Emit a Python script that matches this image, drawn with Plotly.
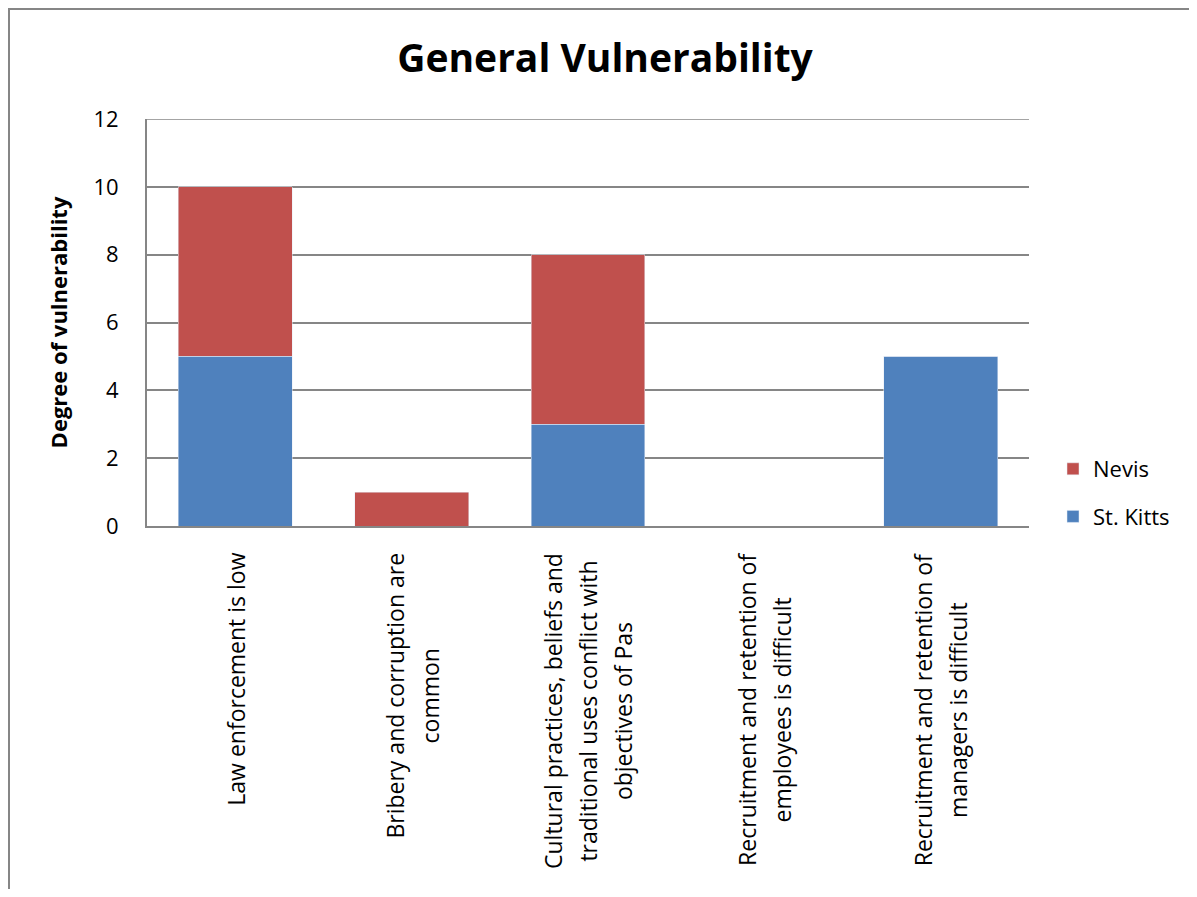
import plotly.graph_objects as go

# data
categories = [["Law enforcement is low"],
              ["Bribery and corruption are", "common"],
              ["Cultural practices, beliefs and", "traditional uses conflict with", "objectives of Pas"],
              ["Recruitment and retention of", "employees is difficult"],
              ["Recruitment and retention of", "managers is difficult"]]
cat_keys = ["c1", "c2", "c3", "c4", "c5"]
st_kitts = [5, 0, 3, 0, 5]
nevis = [5, 1, 5, 0, 0]
y_ticks = [0, 2, 4, 6, 8, 10, 12]

# page has an 8px body margin, so the figure is drawn 8px in
W, H = 1181, 881
L, R, T, B = 139, 160, 111, 363
pw, ph = W - L - R, H - T - B
FONT = "Open Sans"
GRID = "#868686"

def px(x):
    return (x - L) / pw

def py(y):
    return (H - B - y) / ph

fig = go.Figure()
fig.add_trace(go.Bar(x=cat_keys, y=st_kitts, name="St. Kitts", marker_color="#4F81BD",
                     legendgroup="a", legendrank=2))
fig.add_trace(go.Bar(x=cat_keys, y=nevis, name="Nevis", marker_color="#C0504D",
                     legendgroup="b", legendrank=1))

# rotated category labels; bigger annotation font gives the wider line spacing,
# the span sets the visible glyph size
for k, lines in zip(cat_keys, categories):
    txt = "<br>".join('<span style="font-size:23px">%s</span>' % s for s in lines)
    fig.add_annotation(x=k, xref="x", y=py(543), yref="paper", text=txt,
                       textangle=-90, showarrow=False, xanchor="center", yanchor="top",
                       align="center", font=dict(family=FONT, size=27, color="black"))

# gridline at the top of the axis
fig.add_shape(type="line", xref="paper", x0=0, x1=1, yref="y", y0=y_ticks[-1], y1=y_ticks[-1],
              line=dict(color=GRID, width=1.5), layer="below")

# outer chart border (runs off the page on right and bottom)
fig.add_shape(type="rect", xref="paper", yref="paper",
              x0=px(1), x1=px(1300), y0=py(1000), y1=py(1),
              line=dict(color=GRID, width=2), layer="below")

fig.update_layout(
    width=W, height=H,
    margin=dict(l=L, r=R, t=T, b=B),
    barmode="stack", bargap=0.354,
    plot_bgcolor="white", paper_bgcolor="white",
    title=dict(text="<b>General Vulnerability</b>", xref="paper", x=px(597), xanchor="center",
               y=1 - 50 / H, yanchor="middle",
               font=dict(family=FONT, size=39, color="black")),
    font=dict(family=FONT, color="black"),
    legend=dict(x=px(1045), xanchor="left", y=py(440), yanchor="top",
                traceorder="grouped", tracegroupgap=16,
                font=dict(size=22, family=FONT)),
    xaxis=dict(showticklabels=False, showline=True, linecolor=GRID, linewidth=2,
               ticks="", range=[-0.5, 4.5]),
    yaxis=dict(range=[0, 12], tickvals=y_ticks, showgrid=True, gridcolor=GRID,
               gridwidth=1.5, showline=True, linecolor=GRID, linewidth=2,
               ticks="", tickfont=dict(size=22, family=FONT), zeroline=False,
               ticklabelstandoff=22,
               title=dict(text="<b>Degree of vulnerability</b>", standoff=20,
                          font=dict(size=22, family=FONT))),
)
fig.write_html("out.html")
